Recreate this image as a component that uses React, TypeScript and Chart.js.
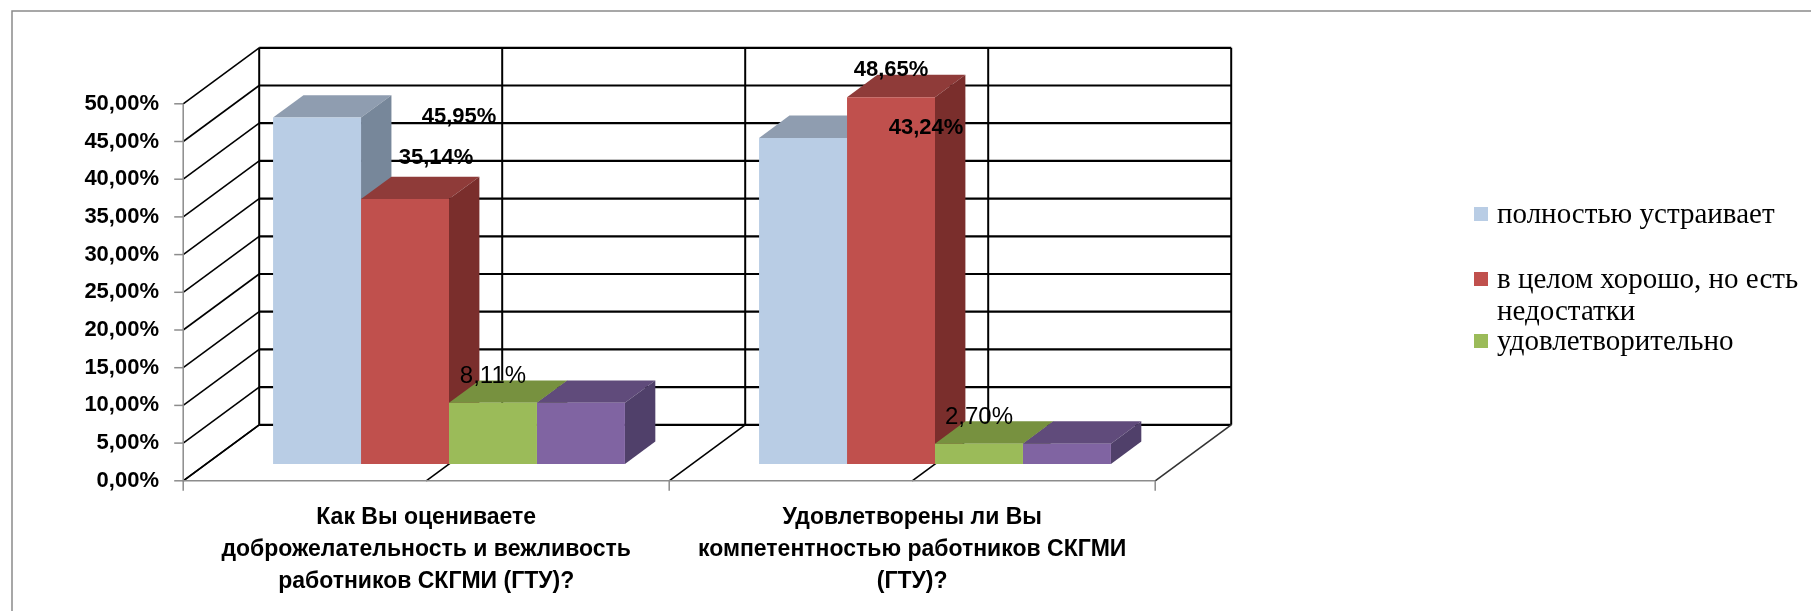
import React, { useEffect, useRef } from "react";
import { Chart, registerables } from "chart.js";

Chart.register(...registerables);

// ---------- data ----------
const categories: string[][] = [
  ["Как Вы оцениваете", "доброжелательность и вежливость", "работников СКГМИ (ГТУ)?"],
  ["Удовлетворены ли Вы", "компетентностью работников СКГМИ", "(ГТУ)?"],
];
const seriesNames = [
  "полностью устраивает",
  "в целом хорошо, но есть недостатки",
  "удовлетворительно",
  "",
];
const fullySatisfied = [45.95, 43.24];
const goodWithFlaws = [35.14, 48.65];
const satisfactory = [8.11, 2.7];
const fourthSeries = [8.11, 2.7];
const yMin = 0;
const yMax = 50;
const yStep = 5;

// ---------- styles ----------
const FRONT = ["#B9CDE5", "#C0504D", "#9BBB59", "#8064A2"];
const TOP = ["#8F9DB0", "#8F3B39", "#77913F", "#604B7B"];
const SIDE = ["#77879A", "#7A2E2C", "#5F7530", "#50406A"];
const SHOW_IN_LEGEND = [true, true, true, false];
const LABEL_BOLD = [true, true, false, null];
const LABEL_SHIFT: ([number, number][] | null)[] = [
  [[142, -1], [123, -10]],
  [[31, -41], [0, -27]],
  [[0, -26], [0, -26]],
  null,
];
const DEPTH = { x: 76, y: -56 }; // full floor depth
const F0 = 0.3; // bar front position within depth
const BAR_DEPTH = 0.4;
const SANS = "'Liberation Sans', Arial, sans-serif";

const fmt = (v: number) => v.toFixed(2).replace(".", ",") + "%";

const threeD = {
  id: "threeD",
  beforeDraw(chart: any) {
    const ctx = chart.ctx;
    ctx.save();
    ctx.fillStyle = "#fff";
    ctx.fillRect(0, 0, chart.width, chart.height);
    ctx.strokeStyle = "#8a8a8a";
    ctx.lineWidth = 1.5;
    ctx.strokeRect(12, 11, chart.width + 20, chart.height + 20);
    ctx.restore();
  },
  beforeDatasetsDraw(chart: any) {
    const ctx = chart.ctx;
    const ys = chart.scales.y;
    const xs = chart.scales.x;
    const { left, right } = chart.chartArea;
    const fx = -F0 * DEPTH.x, fy = -F0 * DEPTH.y;
    const bx = (1 - F0) * DEPTH.x, by = (1 - F0) * DEPTH.y;
    const y0 = ys.getPixelForValue(yMin);
    const yTop = ys.getPixelForValue(yMax);
    const slot = xs.getPixelForValue(1) - xs.getPixelForValue(0);
    const xLines: number[] = [];
    const boundaries: number[] = [];
    for (let i = 0; i < categories.length; i++) {
      const c = xs.getPixelForValue(i);
      if (i === 0) {
        xLines.push(c - slot / 2);
        boundaries.push(c - slot / 2);
      }
      xLines.push(c, c + slot / 2);
      boundaries.push(c + slot / 2);
    }
    ctx.save();
    ctx.lineCap = "butt";
    // back wall horizontal grid
    ctx.strokeStyle = "#000";
    ctx.lineWidth = 2.2;
    const ticks = ys.ticks.map((t: any) => t.value);
    for (const v of ticks) {
      const y = ys.getPixelForValue(v) + by;
      ctx.beginPath();
      ctx.moveTo(left + bx, y);
      ctx.lineTo(right + bx, y);
      ctx.stroke();
    }
    // back wall vertical lines
    ctx.lineWidth = 2;
    for (const x of xLines) {
      ctx.beginPath();
      ctx.moveTo(x + bx, yTop + by);
      ctx.lineTo(x + bx, y0 + by);
      ctx.stroke();
    }
    // side wall diagonals
    ctx.lineWidth = 1.6;
    for (const v of ticks) {
      const y = ys.getPixelForValue(v);
      ctx.beginPath();
      ctx.moveTo(left + fx, y + fy);
      ctx.lineTo(left + bx, y + by);
      ctx.stroke();
    }
    // floor diagonals
    xLines.forEach((x, k) => {
      ctx.strokeStyle = k === xLines.length - 1 ? "#333" : "#000";
      ctx.beginPath();
      ctx.moveTo(x + fx, y0 + fy);
      ctx.lineTo(x + bx, y0 + by);
      ctx.stroke();
    });
    // front axis and floor edge
    ctx.strokeStyle = "#8c8c8c";
    ctx.lineWidth = 1.5;
    ctx.beginPath();
    ctx.moveTo(left + fx, yTop + fy);
    ctx.lineTo(left + fx, y0 + fy);
    ctx.lineTo(right + fx, y0 + fy);
    ctx.stroke();
    for (const v of ticks) {
      const y = ys.getPixelForValue(v) + fy;
      ctx.beginPath();
      ctx.moveTo(left + fx - 9, y);
      ctx.lineTo(left + fx, y);
      ctx.stroke();
    }
    for (const x of boundaries) {
      ctx.beginPath();
      ctx.moveTo(x + fx, y0 + fy);
      ctx.lineTo(x + fx, y0 + fy + 10);
      ctx.stroke();
    }
    // bar tops and sides, painter's order left to right
    const bdx = BAR_DEPTH * DEPTH.x, bdy = BAR_DEPTH * DEPTH.y;
    const bars: any[] = [];
    chart.data.datasets.forEach((_: any, di: number) => {
      const meta = chart.getDatasetMeta(di);
      meta.data.forEach((el: any) => {
        const p = el.getProps(["x", "y", "base", "width"], true);
        bars.push({ ...p, di });
      });
    });
    bars.sort((a, b) => a.x - b.x);
    for (const b of bars) {
      const l = b.x - b.width / 2, r = b.x + b.width / 2, t = b.y, bt = b.base;
      ctx.fillStyle = TOP[b.di];
      ctx.beginPath();
      ctx.moveTo(l, t);
      ctx.lineTo(r, t);
      ctx.lineTo(r + bdx, t + bdy);
      ctx.lineTo(l + bdx, t + bdy);
      ctx.closePath();
      ctx.fill();
      ctx.fillStyle = SIDE[b.di];
      ctx.beginPath();
      ctx.moveTo(r, t);
      ctx.lineTo(r + bdx, t + bdy);
      ctx.lineTo(r + bdx, bt + bdy);
      ctx.lineTo(r, bt);
      ctx.closePath();
      ctx.fill();
    }
    ctx.restore();
  },
  afterDatasetsDraw(chart: any) {
    const ctx = chart.ctx;
    ctx.save();
    ctx.fillStyle = "#000";
    ctx.textAlign = "center";
    ctx.textBaseline = "middle";
    chart.data.datasets.forEach((ds: any, di: number) => {
      const shifts = LABEL_SHIFT[di];
      if (!shifts) return;
      ctx.font = (LABEL_BOLD[di] ? "bold 22px " : "24px ") + SANS;
      const meta = chart.getDatasetMeta(di);
      meta.data.forEach((el: any, j: number) => {
        const p = el.getProps(["x", "y"], true);
        ctx.fillText(fmt(ds.data[j]), p.x + shifts[j][0], p.y + shifts[j][1]);
      });
    });
    // legend
    const LX = 1474, TX = 1497, SQ = 14, LH = 32, MAXW = 320;
    const rowsY = [215, 280, 342];
    ctx.font = "29px 'Liberation Serif', 'Times New Roman', serif";
    ctx.textAlign = "left";
    let row = 0;
    chart.data.datasets.forEach((ds: any, di: number) => {
      if (!SHOW_IN_LEGEND[di]) return;
      const y = rowsY[row++];
      ctx.fillStyle = FRONT[di];
      ctx.fillRect(LX, y - SQ / 2 - 1, SQ, SQ);
      ctx.fillStyle = "#000";
      const words = String(ds.label).split(" ");
      const lines: string[] = [];
      let cur = "";
      for (const w of words) {
        const test = cur ? cur + " " + w : w;
        if (ctx.measureText(test).width > MAXW && cur) {
          lines.push(cur);
          cur = w;
        } else cur = test;
      }
      if (cur) lines.push(cur);
      lines.forEach((ln, k) => ctx.fillText(ln, TX, y + k * LH));
    });
    ctx.restore();
  },
};

export default function App() {
  const ref = useRef<HTMLCanvasElement | null>(null);
  useEffect(() => {
    if (!ref.current) return;
    const values = [fullySatisfied, goodWithFlaws, satisfactory, fourthSeries];
    const chart = new Chart(ref.current, {
      type: "bar",
      data: {
        labels: categories,
        datasets: values.map((d, i) => ({
          label: seriesNames[i],
          data: d,
          backgroundColor: FRONT[i],
          borderWidth: 0,
          categoryPercentage: 0.724,
          barPercentage: 1,
        })),
      },
      options: {
        responsive: false,
        animation: false,
        events: [],
        layout: { padding: { left: 0, top: 87, right: 633, bottom: 0 } },
        plugins: { legend: { display: false }, tooltip: { enabled: false } },
        scales: {
          x: {
            grid: { display: false, drawTicks: false },
            border: { display: false },
            afterFit: (s: any) => {
              s.height = 147;
            },
            ticks: {
              color: "#000",
              maxRotation: 0,
              autoSkip: false,
              padding: 38,
              labelOffset: -F0 * DEPTH.x,
              font: { family: SANS, size: 23, weight: "bold", lineHeight: 32 / 23 },
            },
          },
          y: {
            min: yMin,
            max: yMax,
            grid: { display: false, drawTicks: false },
            border: { display: false },
            afterFit: (s: any) => {
              s.width = 206;
            },
            ticks: {
              stepSize: yStep,
              color: "#000",
              padding: 47,
              labelOffset: -F0 * DEPTH.y,
              callback: (v: any) => fmt(Number(v)),
              font: { family: SANS, size: 22, weight: "bold" },
            },
          },
        },
      },
      plugins: [threeD],
    });
    return () => chart.destroy();
  }, []);
  return (
    <div style={{ position: "fixed", left: 0, top: 0, width: 1811, height: 611, background: "#fff" }}>
      <canvas ref={ref} width={1811} height={611} style={{ display: "block" }} />
    </div>
  );
}
